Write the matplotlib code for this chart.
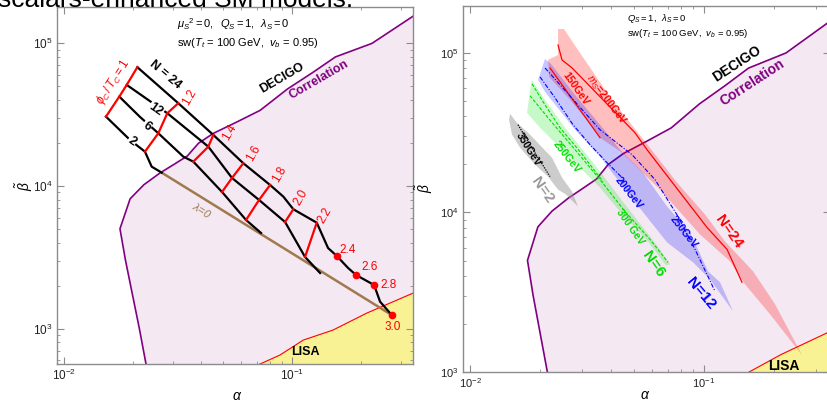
import numpy as np
import matplotlib
matplotlib.use('Agg')
import matplotlib.pyplot as plt
import matplotlib.ticker as mt

plt.rcParams['font.family'] = ['Liberation Sans', 'DejaVu Sans']
plt.rcParams['mathtext.fontset'] = 'custom'
plt.rcParams['mathtext.rm'] = 'Liberation Sans'
plt.rcParams['mathtext.it'] = 'Liberation Sans:italic'
plt.rcParams['mathtext.bf'] = 'Liberation Sans:bold'

# DECIGO correlation boundary (beta increasing along the curve)
corr_alpha = [0.0232, 0.0229, 0.0214, 0.0186, 0.0176, 0.0195, 0.0224, 0.0263, 0.0302, 0.0347,
              0.0389, 0.0452, 0.0575, 0.0724, 0.0955, 0.123, 0.155, 0.224, 0.339, 0.50]
corr_beta = [400, 562, 1000, 3020, 5010, 8130, 10200, 12300, 14100, 16200,
             19950, 23400, 28200, 33900, 47900, 62400, 80400, 100000, 155000, 224000]

# LISA boundary
lisa_alpha = [0.06, 0.0724, 0.0885, 0.112, 0.151, 0.213, 0.34, 0.5]
lisa_beta = [494, 564, 652, 830, 975, 1285, 1775, 2320]

# left panel: phi_C/T_C scans for N = 24, 12, 6, 2
n24_phi = [1.0, 1.2, 1.4, 1.6, 1.8, 1.9, 2.0, 2.2, 2.3, 2.4, 2.5, 2.6, 2.8, 2.9, 3.0]
n24_alpha = [0.02097, 0.03171, 0.04517, 0.06113, 0.0801, 0.0916, 0.1013, 0.1283, 0.1438, 0.1571,
             0.1761, 0.1909, 0.2289, 0.2432, 0.2737]
n24_beta = [68100, 38050, 22800, 14430, 10160, 8414, 6863, 5526, 3672, 3228,
            2658, 2373, 2020, 1542, 1243]

n12_phi = [1.0, 1.2, 1.4, 1.6, 1.8, 2.0, 2.2, 2.3]
n12_alpha = [0.01884, 0.02838, 0.04294, 0.05453, 0.07165, 0.09318, 0.1140, 0.1327]
n12_beta = [51150, 32370, 18870, 11380, 7977, 5589, 3176, 2452]

n6_phi = [1.0, 1.1, 1.2, 1.33, 1.4, 1.6, 1.8, 1.9]
n6_alpha = [0.01748, 0.02154, 0.02592, 0.03335, 0.03691, 0.04932, 0.06284, 0.07311]
n6_beta = [42340, 30500, 23430, 16060, 14810, 9077, 5772, 4679]

n2_phi = [1.0, 1.1, 1.2, 1.25, 1.3]
n2_alpha = [0.01528, 0.01948, 0.02265, 0.02424, 0.02682]
n2_beta = [30640, 21030, 17400, 13660, 12400]

phi_lines = [1.0, 1.2, 1.4, 1.6, 1.8, 2.0, 2.2]
phi_dots = [2.4, 2.6, 2.8, 3.0]

lam0_alpha = [0.02682, 0.2737]
lam0_beta = [12400, 1243]

# right panel: bands and mass lines
red_up_alpha = [0.02377, 0.02521, 0.02894, 0.04044, 0.05433, 0.07667, 0.1010, 0.1229, 0.1620, 0.2011, 0.2623]
red_up_beta = [141250, 141250, 104400, 50850, 29420, 15400, 9716, 6588, 4279, 2661, 1277]
red_lo_alpha = [0.02377, 0.02154, 0.02176, 0.02676, 0.03354, 0.03593, 0.04463, 0.06486, 0.09614, 0.1292, 0.1497, 0.1914]
red_lo_beta = [97160, 90400, 70790, 50850, 33990, 29420, 23710, 13920, 7286, 4940, 3548, 2304]

blue_up_alpha = [0.02091, 0.02218, 0.02810, 0.03593, 0.04375, 0.05487, 0.06949, 0.08715, 0.1040, 0.1171, 0.1330]
blue_up_beta = [91730, 85330, 54640, 35480, 24760, 17780, 10900, 7499, 4279, 3652, 2406]
blue_lo_alpha = [0.01953, 0.02091, 0.02810, 0.03593, 0.04973, 0.06949, 0.08974, 0.1061]
blue_lo_beta = [67830, 57060, 33020, 22390, 12060, 6494, 4870, 3813]

green_up_alpha = [0.01835, 0.02091, 0.02547, 0.03488, 0.04596, 0.06486, 0.07155]
green_up_beta = [67830, 50850, 33990, 19110, 11220, 5873, 4732]
green_lo_alpha = [0.01752, 0.01991, 0.02424, 0.03593, 0.04375, 0.05764, 0.06879]
green_lo_beta = [42170, 33990, 25490, 14330, 10140, 6588, 4665]

gray_alpha = [0.01483, 0.01572, 0.01805, 0.02240, 0.02472, 0.02729, 0.02894,
              0.02572, 0.02377, 0.02154, 0.01896, 0.01636, 0.01512, 0.01468]
gray_beta = [41580, 37060, 30730, 22070, 16550, 13530, 10900,
             12960, 13920, 16790, 19950, 25490, 30730, 38130]

red200_alpha = [0.02377, 0.02472, 0.02729, 0.05071, 0.05706, 0.1030, 0.1254, 0.1453]
red200_beta = [112200, 90400, 80580, 31620, 24760, 8058, 5873, 3652]
red150_alpha = [0.02197, 0.03593]
red150_beta = [80580, 29420]
blue250_alpha = [0.02091, 0.03593, 0.04924, 0.06174, 0.07743, 0.09152, 0.1114]
blue250_beta = [80580, 33020, 23040, 16080, 9441, 5873, 3209]
blue200_alpha = [0.01991, 0.02307, 0.02755, 0.03257, 0.03850, 0.04463]
blue200_beta = [70790, 52350, 35480, 26610, 20540, 16550]
green250_alpha = [0.01841, 0.02091, 0.02424, 0.02952, 0.03702]
green250_beta = [64010, 47320, 33990, 24060, 15620]
green300_alpha = [0.01805, 0.02154, 0.02810, 0.03593, 0.04596, 0.05878, 0.07018]
green300_beta = [53860, 39250, 24760, 16080, 10140, 6781, 4870]
black350_alpha = [0.01603, 0.01858, 0.02197]
black350_beta = [35480, 24760, 16790]

FRAME = '#8c8c8c'
PURPLE = '#800080'
CORR_FILL = '#f4e8f3'
LISA_FILL = '#f8f294'
BROWN = '#a07a4e'


def frame(ax, xlim, ylim, size):
    ax.set_xscale('log')
    ax.set_yscale('log')
    ax.set_xlim(*xlim)
    ax.set_ylim(*ylim)
    ax.xaxis.set_minor_formatter(mt.NullFormatter())
    ax.yaxis.set_minor_formatter(mt.NullFormatter())
    ax.tick_params(which='both', direction='in', top=True, right=True,
                   color=FRAME, labelsize=size, labelcolor='#222222')
    ax.tick_params(which='major', length=5, width=0.8, pad=3)
    ax.tick_params(which='minor', length=2.5, width=0.6)
    for s in ax.spines.values():
        s.set_color(FRAME)
        s.set_linewidth(1.0)


def regions(ax):
    ax.fill_betweenx(corr_beta, corr_alpha, 10, color=CORR_FILL, lw=0, zorder=0.5)
    ax.fill_between(lisa_alpha, 1, lisa_beta, color=LISA_FILL, lw=0, zorder=0.6)
    ax.plot(corr_alpha, corr_beta, color=PURPLE, lw=1.2, zorder=2)
    ax.plot(lisa_alpha, lisa_beta, color='red', lw=0.8, zorder=2)


fig = plt.figure(figsize=(8.27, 4.04), dpi=100)
# caption of the page above, cut by the crop
fig.text(-0.002, 1 - 7 / 404, 'scalars-enhanced SM models.', fontsize=19, va='baseline')

# ---------------- left panel ----------------
axL = fig.add_axes([57 / 827, 40 / 404, 356 / 827, 357 / 404])
frame(axL, (0.00932, 0.339), (564, 1.80e5), 8.5)
regions(axL)
axL.plot(lam0_alpha, lam0_beta, color=BROWN, lw=1.8, zorder=3)

curves = [(n24_phi, n24_alpha, n24_beta), (n12_phi, n12_alpha, n12_beta),
          (n6_phi, n6_alpha, n6_beta), (n2_phi, n2_alpha, n2_beta)]
for ph, a, b in curves:
    axL.plot(a, b, color='black', lw=1.6, zorder=4, solid_joinstyle='round')

for p in phi_lines:
    pa, pb = [], []
    for ph, a, b in curves:
        if p in ph:
            i = ph.index(p)
            pa.append(a[i])
            pb.append(b[i])
    axL.plot(pa, pb, color='red', lw=1.6, zorder=5)

for p in phi_dots:
    i = n24_phi.index(p)
    axL.plot(n24_alpha[i], n24_beta[i], 'o', color='red', ms=4.5, zorder=6)

phi_offsets = {1.2: (11, 6), 1.4: (16, 3), 1.6: (10, 10), 1.8: (9, 11), 2.0: (8, 12), 2.2: (8, 7)}
for p, off in phi_offsets.items():
    i = n24_phi.index(p)
    axL.annotate('%.1f' % p, (n24_alpha[i], n24_beta[i]), xytext=off, textcoords='offset pixels',
                 ha='center', va='center', rotation=60, color='red', fontsize=8.5, zorder=7)
dot_offsets = {2.4: (3, 6, 'left'), 2.6: (5, 8, 'left'), 2.8: (6, 0, 'left'), 3.0: (1, -12, 'center')}
for p, (dx, dy, ha) in dot_offsets.items():
    i = n24_phi.index(p)
    axL.annotate('%.1f' % p, (n24_alpha[i], n24_beta[i]), xytext=(dx, dy), textcoords='offset pixels',
                 ha=ha, va='center', color='red', fontsize=8.5, zorder=7)

tA = axL.transAxes
axL.text(0.337, 0.952, r'$\mu_S{}^2 = 0,\;\; Q_S = 1,\;\; \lambda_S = 0$', transform=tA,
         fontsize=8, va='center', ha='left')
axL.text(0.337, 0.899, r'sw($T_t$ = 100 GeV,  $v_b$ = 0.95)', transform=tA,
         fontsize=8, va='center', ha='left')
axL.text(0.158, 0.791, r'$\phi_C\,/\,T_C = 1$', transform=tA, rotation=57, color='red',
         fontsize=8.5, ha='center', va='center')
axL.text(0.305, 0.810, 'N = 24', transform=tA, rotation=-40, fontsize=9, fontweight='bold',
         ha='center', va='center')
for lab, x, y in [('12', 0.278, 0.713), ('6', 0.252, 0.666), ('2', 0.210, 0.623)]:
    axL.text(x, y, lab, transform=tA, rotation=-35, fontsize=9, fontweight='bold',
             ha='center', va='center', zorder=6,
             bbox=dict(facecolor='white', edgecolor='none', pad=0.6))
axL.text(0.408, 0.431, r'$\lambda$=0', transform=tA, rotation=-32, color=BROWN,
         fontsize=8, style='italic', ha='center', va='center')
axL.text(0.633, 0.800, 'DECIGO', transform=tA, rotation=30, fontsize=9, fontweight='bold',
         ha='center', va='center')
axL.text(0.736, 0.796, 'Correlation', transform=tA, rotation=30, fontsize=9, fontweight='bold',
         color=PURPLE, ha='center', va='center')
axL.text(0.697, 0.034, 'LISA', transform=tA, fontsize=9, fontweight='bold',
         ha='center', va='center')
axL.set_xlabel(r'$\alpha$', fontsize=10)
axL.set_ylabel(r'$\tilde{\beta}$', fontsize=10)
axL.xaxis.set_label_coords(0.505, -0.070)
axL.yaxis.set_label_coords(-0.062, 0.5)

# ---------------- right panel ----------------
axR = fig.add_axes([463 / 827, 32 / 404, 367 / 827, 366 / 404])
frame(axR, (0.00933, 0.3455), (1000, 1.97e5), 8)
regions(axR)


def band(ax, ua, ub, la, lb, color, alpha):
    ax.fill(list(ua) + list(la)[::-1], list(ub) + list(lb)[::-1],
            color=color, alpha=alpha, lw=0, zorder=3)


band(axR, red_up_alpha, red_up_beta, red_lo_alpha, red_lo_beta, 'red', 0.25)
band(axR, blue_up_alpha, blue_up_beta, blue_lo_alpha, blue_lo_beta, 'blue', 0.22)
band(axR, green_up_alpha, green_up_beta, green_lo_alpha, green_lo_beta, '#00e000', 0.22)
axR.fill(gray_alpha, gray_beta, color='#9a9a9a', alpha=0.5, lw=0, zorder=3)

axR.plot(red200_alpha, red200_beta, color='red', lw=0.9, zorder=4)
axR.plot(red150_alpha, red150_beta, color='red', lw=0.9, zorder=4)
axR.plot(blue250_alpha, blue250_beta, color='blue', lw=0.8, ls=(0, (4, 1.5, 1, 1.5)), zorder=4)
axR.plot(blue200_alpha, blue200_beta, color='blue', lw=0.8, ls=(0, (4, 1.5, 1, 1.5)), zorder=4)
axR.plot(green250_alpha, green250_beta, color='#00dd00', lw=0.8, ls=(0, (3, 1.5)), zorder=4)
axR.plot(green300_alpha, green300_beta, color='#00dd00', lw=0.8, ls=(0, (3, 1.5)), zorder=4)
axR.plot(black350_alpha, black350_beta, color='black', lw=0.9, ls=(0, (1, 1)), zorder=4)

tB = axR.transAxes
axR.text(0.447, 0.967, r'$Q_S = 1,\;\; \lambda_S = 0$', transform=tB,
         fontsize=6.8, va='center', ha='left')
axR.text(0.447, 0.926, r'sw($T_t$ = 100 GeV,  $v_b$ = 0.95)', transform=tB,
         fontsize=6.8, va='center', ha='left')
axR.text(0.747, 0.842, 'DECIGO', transform=tB, rotation=33, fontsize=10, fontweight='bold',
         ha='center', va='center')
axR.text(0.787, 0.790, 'Correlation', transform=tB, rotation=33, fontsize=10, fontweight='bold',
         color=PURPLE, ha='center', va='center')
axR.text(0.875, 0.017, 'LISA', transform=tB, fontsize=10, fontweight='bold',
         ha='center', va='center')

small = [(r'$m_S$=200GeV', 0.390, 0.743, -53, 'red'),
         ('150GeV', 0.307, 0.773, -55, 'red'),
         ('350GeV', 0.178, 0.609, -58, 'black'),
         ('250GeV', 0.283, 0.588, -52, '#00dd00'),
         ('200GeV', 0.452, 0.490, -52, 'blue'),
         ('250GeV', 0.600, 0.383, -52, 'blue'),
         ('300 GeV', 0.455, 0.395, -55, '#00dd00')]
for lab, x, y, rot, c in small:
    axR.text(x, y, lab, transform=tB, rotation=rot, fontsize=7.5, fontweight='bold',
             color=c, ha='center', va='center', zorder=6)

big = [('N=2', 0.217, 0.497, -55, '#999999'),
       ('N=6', 0.519, 0.295, -55, '#00dd00'),
       ('N=12', 0.648, 0.215, -50, 'blue'),
       ('N=24', 0.725, 0.383, -55, 'red')]
for lab, x, y, rot, c in big:
    axR.text(x, y, lab, transform=tB, rotation=rot, fontsize=11, fontweight='bold',
             color=c, ha='center', va='center', zorder=6)

axR.set_xlabel(r'$\alpha$', fontsize=10)
axR.set_ylabel(r'$\tilde{\beta}$', fontsize=10)
axR.xaxis.set_label_coords(0.496, -0.045)
axR.yaxis.set_label_coords(-0.076, 0.503)

fig.savefig('out.png', dpi=100)
